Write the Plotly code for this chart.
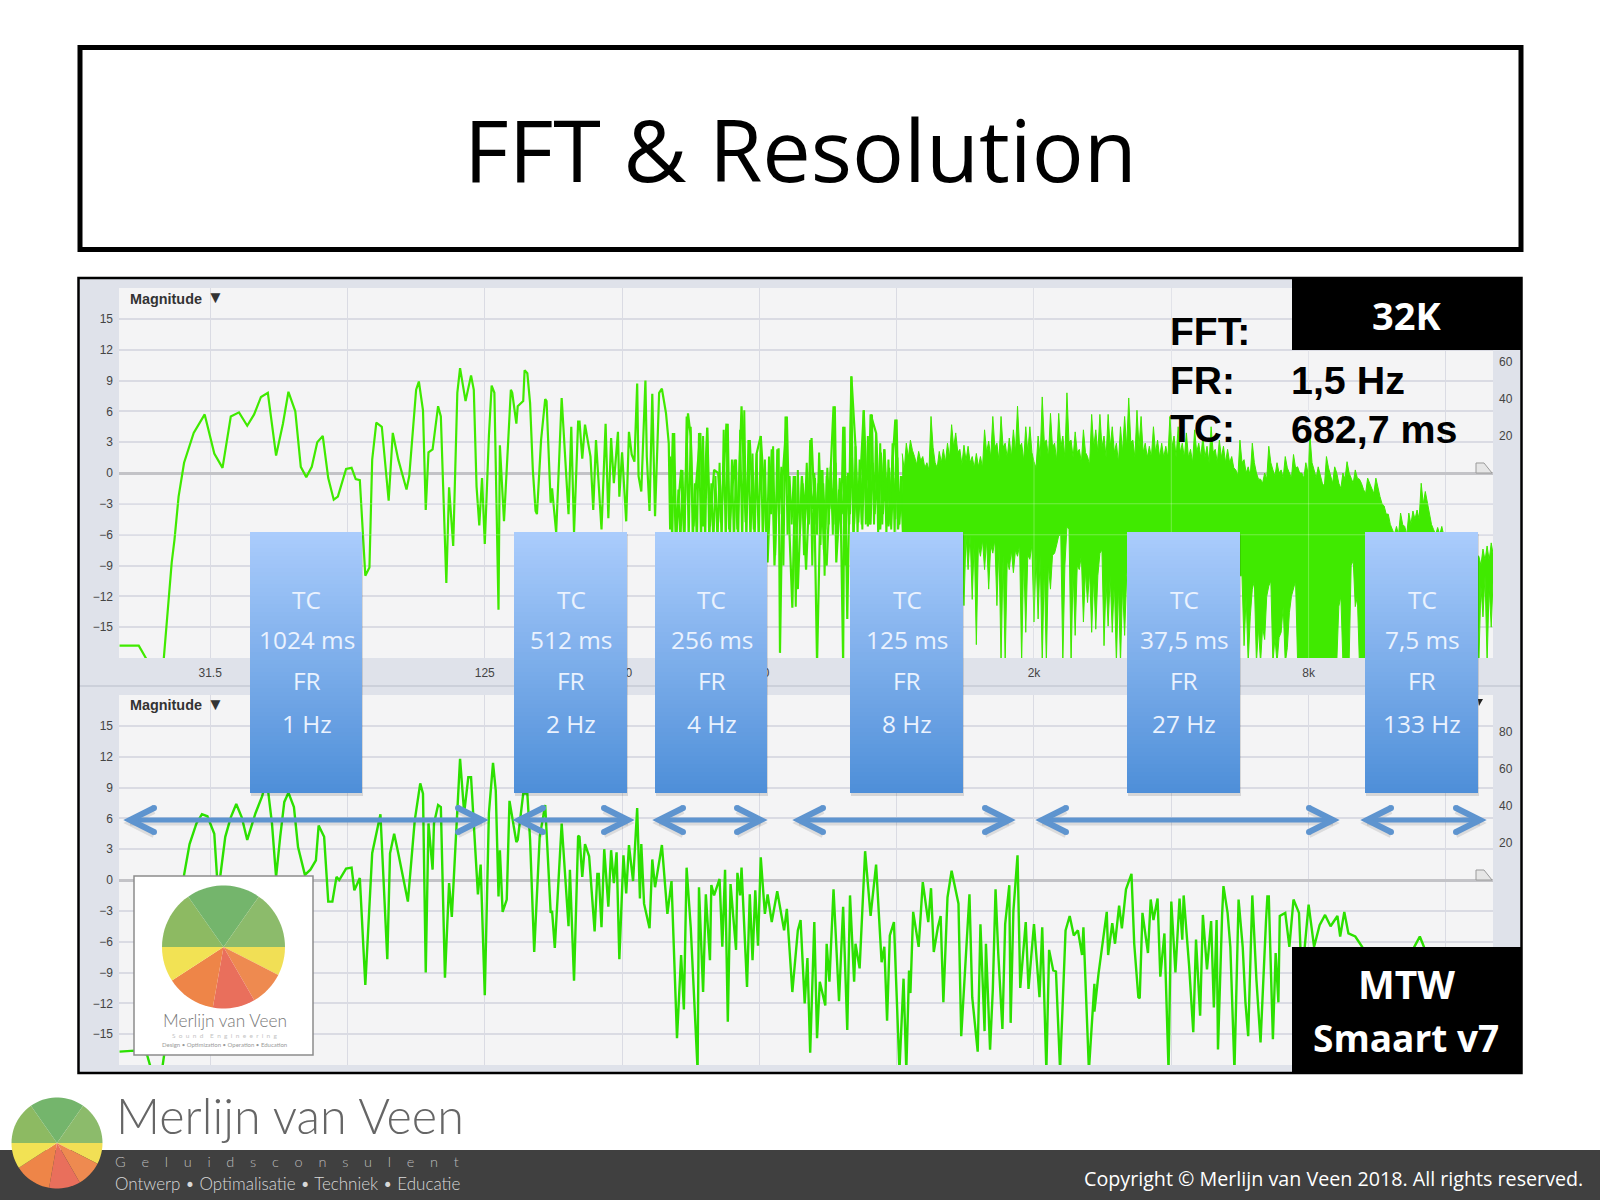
import math
import plotly.graph_objects as go

W, H = 1600, 1200

# ---- data -------------------------------------------------------------------
octave_labels = ["31.5", "", "125", "250", "500", "", "2k", "", "8k", ""]
octave_freqs = [31.5, 63, 126, 252, 504, 1008, 2016, 4032, 8064, 16128]
db_ticks = [15, 12, 9, 6, 3, 0, -3, -6, -9, -12, -15]
right_ticks = [20, 40, 60, 80]

# upper panel (32K): octaves above 31.5 Hz, magnitude in dB
upper_oct = [-0.66,-0.52,-0.46,-0.34,-0.28,-0.26,-0.23,-0.19,-0.12,-0.04,0.03,0.09,0.15,0.21,0.27,0.32,0.37,0.42,0.48,0.53,0.57,0.62,0.66,0.70,0.74,0.78,0.82,0.86,0.90,0.93,0.99,1.03,1.06,1.09,1.13,1.16,1.18,1.21,1.25,1.30,1.33,1.37,1.43,1.45,1.50,1.52,1.55,1.57,1.59,1.62,1.66,1.68,1.72,1.74,1.77,1.79,1.80,1.82,1.86,1.90,1.92,1.94,1.96,1.98,2.00,2.03,2.05,2.07,2.10,2.11,2.14,2.19,2.20,2.23,2.24,2.28,2.29,2.31,2.33,2.35,2.37,2.38,2.41,2.44,2.45,2.48,2.49,2.52,2.56,2.61,2.63,2.65,2.68,2.69,2.71,2.73,2.77,2.79,2.81,2.85,2.88,2.90,2.92,2.94,2.97,2.98,3.00,3.03,3.05,
 3.07,3.09,3.11,3.12,3.14,3.17,3.18,3.20,3.22,3.24,3.27,3.29,3.32,3.34,3.35,3.37,3.39,3.43,3.45,3.48,3.50,3.52,3.54,3.57,3.59,3.62,3.64,3.67,3.70,3.72,3.76,3.78,3.82,3.84,3.87,3.90,3.93,3.96,3.98,4.01,4.04,4.06,4.09,4.11,4.14,4.15,4.17,4.20,4.22,4.24,4.26,4.28,4.31,4.34,4.38,4.40,4.42,4.45,4.47,4.49,4.52,4.54,4.56,4.59,4.61,4.62,4.64,4.67,4.70,4.72,4.76,4.79,4.81,4.85,4.88,4.91,4.94,4.99,5.01,5.04]
upper_db = [-16.8,-16.8,-18.2,-18.4,-8.7,-6.5,-2.3,1,3.9,5.7,1.9,0.5,5.5,5.9,4.6,5.7,7.4,7.8,1.7,4.8,7.9,6,0.6,-0.4,0.6,3,3.6,-0.5,-2.6,-2.3,0.4,0.5,-0.6,-0.7,-10,-9.2,1.3,4.9,4.5,-2.7,3.9,1.3,-1.6,-0.3,8.1,8.9,6.1,-3.6,2,2.3,6.5,5.5,-10.7,-1.4,-7.1,4.5,7.8,10.2,7,9.5,8.1,-1.3,-5.1,-0.5,-6.9,3.6,8.5,7.8,-13.3,2.7,-4.7,8.1,7.8,4.8,6.5,7,10,9.7,6.8,0.3,-3.7,-4,3.2,7.2,7,-2.9,-1.5,-5.8,7.3,-4,4.5,-5.8,5,5,1.4,4.7,1.6,-3.6,3.2,-5.5,4.8,-4.4,3.4,-1,4,-2.3,2,-4.7,4,
 1.8,1.1,8.7,-0.3,-1.8,9,1.6,-3.7,7.7,-4.2,7.8,8.2,5.8,2.9,-5.5,3.9,-6.1,0.3,-5.8,5.8,3.6,-5.2,-1,3.9,-5.2,4.4,-5.2,0.3,0,-4.8,4.8,-5.5,1.3,-5.5,6.5,-4.8,3.2,-5.5,1.9,3.6,-2.9,-8.7,2.3,-9,2.4,-17.5,-0.3,5.5,-6.1,-13.1,-0.3,-11.3,-0.3,-9.4,3.4,-2.9,-18.5,0.3,-7.4,-9,0.5,6.5,-8.7,-1.6,-18.5,4.5,-14.2,9.4,2.6,-4.8,6.1,-5.2,5.7,3.9,-5.5,2.3,-5.2,5.2,-5.5,-0.3]

# busier middle part of the upper panel: tops and bottoms of the trace
mid_start_oct = 3.35
mid_step_oct = 0.03
mid_tops = [1.6,3.9,-1.6,0.3,5.5,4.5,-1,3.9,3.6,4.4,-1,-0.3,1,4.2,4.8,1.3,1.3,4.2,6.1,3.2,1.9,1.9,3.6,1.3,1.6,2.6,2.3,0.6,5.5,-0.3,-0.3,0.3,-0.3,-1,3.2,0,-1,0.3,-0.3,0.6,6.5,-1.6,4.5,-0.3,9.4,2.6,1.3,6.1,3.6,5.7,3.9,2.9,2.3,1.3,2.9,5.2,-0.3]
mid_bottoms = [-7,-7,-7,-7,-7,-7,-7,-7,-7,-7,-7,-7,-7,-7,-7,-7,-7,-7,-7,-7,-7,-7,-7,-7,-4,-8,-4,-9,-6,-5,-13,-6,-8,-5,-9,-5,-7,-10,-5,-6,-7,-5,-9,-5,-8,-6,-5,-5,-5,-5,-6,-5,-6,-5,-6,-5,-6]

# the strokes packed between those, where the trace starts to close up
close_start_oct = 4.315
close_step_oct = 0.03
close_tops = [-1,1,-1.5,-0.5,2,-1,0.5,-1.5,1,-0.5,-2,0,1.5,-1,-0.5,2,-1.5,1,-0.5,2,-1,0.5,-0.5,1.5,-1,0.5]
close_bottoms = [-4,-5,-3.5,-6,-4.5,-5.5,-3.5,-5,-6,-4,-5.5,-4,-5,-3.5,-5.5,-4.5,-5,-4,-5.5,-4,-5,-5.5,-4.5,-5,-5.5,-6]

# solid part of the upper panel, read sample by sample: spike tops, the valleys
# between them, the lower edge of the solid mass, and the deep spikes below it
dense_start_oct = 5.04
dense_step_oct = 0.03
dense_tops = [1.9,2.9,3.2,1.6,2.1,1.6,1,5.5,1,2.1,2.3,2.9,4.7,3.9,2.3,2.7,2.6,1.6,1.9,1.6,4.2,3.1,5.5,2.9,5.5,2.9,3.4,4.2,6.5,2.9,4.5,4.5,1.1,3.6,7.4,3.2,5.8,2.9,5.8,3.6,7.8,3.2,4,2.3,4.2,1.6,5.7,4.2,5.7,3.6,5.7,4.5,2.9,4.5,5.5,7.3,3.2,6.1,
 5.5,2.9,2.6,4.5,3.2,2.9,2.6,5.5,3.6,4.5,2.9,3.9,2.3,4.2,2.9,3.6,2.6,4.5,2.3,3.2,2.6,2.3,1.6,0.3,3.2,1.3,0.6,2.9,0,-0.6,0,2.6,0.3,1,0.3,1.6,0,1.8,0.6,0,1,3.6,0.3,0.6,-1,1.6,-0.3,0.6,-1,0,1.1,-0.5,0.3,-0.6,-1.6,-0.5,-1.6,-0.5,-2.3,-3.2,-4,-5.5,-5.2,-3.9,-5.2,-3.9,-3.7,-3.6,-1,-1.8,-4,-5.5,-5.3,-5.2,-7,-7,-7,-7,-7,-7,-7,-7,-8.1,-7.4,-7.1,-6.8]
dense_valleys = [0.3,1.5,2.2,0.8,1.2,0.5,0.3,2.5,0.5,1,1,1.5,2.5,2,0.8,1.2,1,0.5,0.6,0.5,2,1.5,2.5,1.2,2.5,1.5,1.5,2,2.5,1.2,2,2,0.5,1.5,3,1.5,2.5,1.2,2.5,1.5,3,1.5,2,1,2,0.8,2.5,2,2.5,1.5,2.5,2,1,2,2.5,3,1.5,2.5,
 2,1.5,1.5,2,1.5,1.5,1.5,2.5,1.5,2,1.5,1.5,1,2,1.5,1.5,1,2,1,1.5,1,1,0.5,-0.3,1,0,-0.3,1,-0.6,-1,-0.6,1,-0.3,0,-0.5,0.5,-0.5,0.5,0,-0.5,0,1,-0.5,-0.3,-1.3,0.5,-1,0,-1.5,-0.6,0,-1,-0.5,-1,-2,-1,-2,-1.5,-3,-4,-5,-6,-6,-5,-6,-5,-4.5,-4.5,-3,-3,-5,-6,-6,-6,-8,-8,-8,-8,-8,-8,-8,-8,-9,-8.5,-8.5,-8]
dense_floors = [-7,-7,-7,-7,-7,-7,-7,-7,-7,-7,-7,-7,-7,-7,-7,-6,-6,-6.5,-7,-6.5,-6.5,-7,-6.5,-7,-8,-8.5,-7.5,-7.5,-7,-8,-8,-7,-8,-8,-9,-9,-8,-7,-6,-9,-5.5,-9.5,-9,-8,-9.5,-9.5,-10,-10,-7.5,-10.5,-10,-10.5,-11,-11,-10,-8,-8,-8,
 -10,-10,-10,-10,-10,-10,-10,-10,-10,-10,-10,-10,-10,-10,-10,-10,-10,-10,-10,-10,-10,-10,-10,-10,-10,-12,-14,-10.5,-15,-15,-12,-10.5,-16,-16,-13,-17,-12,-10.5,-18.5,-18.5,-18.5,-18.5,-18.5,-18.5,-18.5,-18.5,-18.5,-18.5,-12,-18.5,-18.5,-8.5,-12,-18.5,-18.5,-10,-10,-10,-10,-10,-10,-10,-10,-10,-10,-10,-10,-10,-10,-10,-10,-10,-10,-10,-10,-10,-10,-10,-10,-10,-10,-10,-11,-10,-11,-10]
dense_bottoms = [-7,-6,-8,-6,-7,-6,-8,-6,-7,-8,-6,-7,-6,-8,-7,-12.9,-9.4,-12.3,-16.7,-8.1,-9.4,-11.3,-7.8,-12.9,-18.5,-18.5,-9.4,-9.7,-8.1,-18.5,-15.5,-8.4,-14.5,-14.2,-18.5,-18.5,-11.3,-7.8,-6.1,-18.5,-5.2,-18.5,-15.8,-9.4,-14.5,-12.6,-15.5,-15.2,-7.8,-16.8,-14.9,-15.5,-18.5,-18.5,-15.8,-8,-8,-8,
 -10,-10,-10,-10,-10,-10,-10,-10,-10,-10,-10,-10,-10,-10,-10,-10,-10,-10,-10,-10,-10,-10,-10,-10,-10,-16.8,-18.5,-11.3,-18.5,-18.5,-16.2,-11,-18.5,-18.5,-15.5,-18.5,-13.6,-11.3,-18.5,-18.5,-18.5,-18.5,-18.5,-18.5,-18.5,-18.5,-18.5,-18.5,-13,-18.5,-18.5,-9,-13,-18.5,-18.5,-10,-10,-10,-10,-10,-10,-10,-10,-10,-10,-10,-10,-10,-10,-10,-10,-10,-10,-10,-10,-10,-10,-10,-10,-10,-10,-10,-18.5,-14,-18.5,-15]

# lower panel (MTW): octaves above 31.5 Hz, magnitude in dB
lower_oct = [-0.66,-0.55,-0.46,-0.43,-0.35,-0.32,-0.19,-0.15,-0.10,-0.06,-0.02,0.03,0.05,0.07,0.11,0.15,0.19,0.23,0.27,0.33,0.38,0.41,0.45,0.48,0.51,0.54,0.57,0.61,0.64,0.69,0.73,0.77,0.79,0.83,0.86,0.89,0.92,0.94,0.99,1.03,1.05,1.09,1.13,1.18,1.24,1.29,1.31,1.34,1.37,1.44,1.49,1.53,1.55,1.57,1.59,1.62,1.63,1.66,1.68,1.71,1.74,1.76,1.79,1.82,1.85,1.88,1.90,1.93,1.95,1.97,2.00,2.03,2.06,2.08,2.10,2.11,2.13,2.16,2.18,2.23,2.24,2.28,2.31,2.33,2.36,2.40,2.44,2.48,2.49,2.51,2.56,2.61,2.62,2.65,2.68,2.69,2.71,2.73,2.76,2.80,2.82,2.83,2.85,2.87,2.90,2.92,2.94,2.96,2.98,3.01,3.03,3.05,
 3.08,3.11,3.13,3.14,3.16,3.20,3.22,3.24,3.29,3.33,3.36,3.40,3.43,3.45,3.47,3.50,3.55,3.56,3.59,3.61,3.64,3.65,3.67,3.71,3.73,3.75,3.77,3.79,3.83,3.84,3.86,3.87,3.91,3.93,3.95,3.97,3.99,4.01,4.04,4.06,4.09,4.13,4.18,4.20,4.24,4.28,4.30,4.33,4.35,4.37,4.40,4.42,4.44,4.48,4.49,4.51,4.54,4.58,4.61,4.64,4.66,4.69,4.70,4.73,4.77,4.81,4.85,4.89,4.91,4.93,4.95,4.98,5.02,5.05,5.07,5.09,5.10,5.12,5.16,5.19,5.23,5.25,5.27,5.30,5.32,5.34,5.37,5.40,5.45,5.47,5.50,5.53,5.55,5.59,5.61,5.64,5.65,5.68,5.70,5.72,5.74,5.77,5.79,5.82,5.83,5.85,5.88,5.90,5.94,5.96,6.00,6.04,6.06,6.09,6.11,6.14,6.16,6.19,6.23,6.26,6.29,6.32,6.35,6.36,6.40,6.44,6.44,6.47,6.53,6.54,6.57,6.59,6.62,6.64,6.67,6.71,6.73,6.76,
 6.77,6.79,6.83,6.85,6.87,6.90,6.92,6.95,6.98,7.00,7.03,7.06,7.08,7.09,7.13,7.16,7.18,7.21,7.23,7.26,7.29,7.31,7.33,7.34,7.37,7.38,7.41,7.43,7.46,7.49,7.52,7.54,7.56,7.59,7.62,7.65,7.69,7.70,7.71,7.74,7.76,7.78,7.79,7.83,7.86,7.89,7.93,7.95,8.00,8.04,8.08,8.12,8.16,8.21,8.23,8.26,8.29,8.34,8.39,8.46,8.61,8.73,8.77,8.81,8.84,8.90]
lower_db = [-16.7,-16.6,-17,-18.4,-18.4,-15.6,0.5,3.5,5.5,6.4,6.2,4.5,0.3,0,4.2,6.1,7.4,6.1,3.9,6.5,8.2,10,5.5,0.3,4.2,7.6,8.5,7.1,3.2,0.5,1,1.9,5.3,4.2,-2.1,-2.1,0.3,0,1.1,1.2,-1,0.2,-10.2,2.6,6.4,-7.7,2.6,4.5,2.6,-2.1,5.8,9.4,8.4,-9,5.5,1,5.5,7.3,7.1,-9.5,-0.3,-3.6,4.2,11.8,6.5,10,10,3.2,-1.4,1.5,-11.2,6.5,11.4,8.7,-1.6,2.9,-3.1,-1.9,7.7,3.7,3.9,8.4,8.4,3.9,-7,4.2,7.3,-3.2,-3,-6.6,5.5,-4.5,1,-9.8,4.3,4.2,0.3,3.5,2.3,-5,0.6,0.6,-4.6,3,-2.6,2.9,-0.3,2.7,-7.7,2.4,-1.3,3.4,
 -0.1,7,-1.8,3.5,-2.3,-4.7,2,-0.7,3.4,-3.3,-0.1,-15.4,-7.3,-12.6,1.2,-4.6,-18.5,-0.7,-10.9,-1.4,-7.8,-0.5,-1.5,0.1,-6.5,1,-13.8,-0.4,-6.8,0.7,-1.5,1.2,-10.4,-1.4,-7.8,-1,-6.4,2.2,-3.3,-1.4,-4.1,-1.1,-4.9,-2.8,-10.9,-4.9,-3.9,-12,-7.6,-16.8,-4.1,-15.4,-9.9,-12.2,-6.2,-9.9,-0.9,-11.8,-2.6,-14.6,-1.5,-9.9,-6.2,-8.6,2.8,-3.5,1.5,-8,-6.5,-13.7,-5.4,-4.1,-18.5,-9.6,-18.5,-8.8,-11,-3.1,-6.5,-0.2,-4.1,-0.8,-7,-4.6,-3.5,-11.9,-1.7,0.9,-2.3,-15.2,-7.8,-1.4,-11.4,-16.7,-4.3,-14.7,-6.2,-16.5,-10.7,-0.9,-7.2,-14.5,-4.3,-0.5,-13.9,-3,2.4,-10.5,-4.1,-10.6,-4.3,-11.4,-4.6,-18.5,-6.8,-8.8,-8.9,-18.5,-4.9,-3.5,-5.4,-4.9,-7.3,-4.6,-18.5,-10.1,-12.8,-9.1,-3.1,-7.3,-4.2,-6.2,-2.5,-4.7,-0.9,0.6,-6.2,-11.4,
 -11.5,-3.2,-7.1,-1.9,-3.9,-1.8,-9.4,-5.2,-18.5,-2.1,-9,-1.8,-5.8,-1.5,-8.4,-14.8,-5.8,-13.2,-3.4,-8.7,-4,-12.4,-3.9,-16.5,-3.4,-0.6,-3.2,-6.5,-18.5,-1.9,-6.5,-11.9,-15.2,-1.5,-9.7,-15.8,-3.9,-1.6,-1.6,-15.5,-7.1,-11.9,-3.5,-3.2,-6.5,-1.9,-3.2,-9.7,-2.4,-6.5,-4.4,-3.4,-4.5,-3.5,-5.5,-3.1,-5.2,-5.5,-6.5,-9,-12,-8,-6.5,-5.5,-6.5,-12]

tc_values = ["1024 ms", "512 ms", "256 ms", "125 ms", "37,5 ms", "7,5 ms"]
fr_values = ["1 Hz", "2 Hz", "4 Hz", "8 Hz", "27 Hz", "133 Hz"]

# ---- layout geometry (pixels) -----------------------------------------------
PL, PR = 119, 1493
UT, UB = 288, 658
LT, LB = 695, 1065
BASE = 31.5
OCT_L, OCT_R = -0.664, 9.343
box_edges = [(250, 362), (514, 627), (655, 767), (850, 963), (1127, 1240), (1365, 1478)]
arrow_edges = [(124, 488), (513, 634), (653, 767), (793, 1015), (1036, 1339), (1361, 1486)]
ARROW_Y = 820


def px(x):
    return x / W


def py(y):
    return 1 - y / H


def rect(x0, y0, x1, y1, fill=None, line=None, lw=0, layer="above"):
    return dict(type="rect", xref="paper", yref="paper", x0=px(x0), x1=px(x1), y0=py(y0), y1=py(y1),
                fillcolor=fill or "rgba(0,0,0,0)", line=dict(color=line or "rgba(0,0,0,0)", width=lw), layer=layer)


def dot(x, y, r, fill):
    return dict(type="circle", xref="paper", yref="paper", x0=px(x - r), x1=px(x + r), y0=py(y + r), y1=py(y - r),
                fillcolor=fill, line=dict(width=0), layer="above")


def path(points, fill=None, line=None, lw=0, close=False, layer="above"):
    d = "M" + " L".join(f"{px(a):.5f},{py(b):.5f}" for a, b in points) + (" Z" if close else "")
    return dict(type="path", xref="paper", yref="paper", path=d, fillcolor=fill or "rgba(0,0,0,0)",
                line=dict(color=line or "rgba(0,0,0,0)", width=lw), layer=layer)


def text(x, y, s, size, color="#000", family="Open Sans", anchor="center", weight=None):
    f = dict(size=size, color=color, family=family)
    if weight:
        f["weight"] = weight
    return dict(xref="paper", yref="paper", x=px(x), y=py(y), text=s, showarrow=False, xanchor=anchor,
                yanchor="middle", font=f, align=anchor if anchor != "middle" else "center")


def wedges(cx, cy, r):
    parts = [(270, 325, "#8dba62"), (325, 395, "#74b56c"), (35, 90, "#8cbb6b"), (90, 117, "#f1df55"),
             (117, 150, "#ee8a50"), (150, 190, "#e96f5c"), (190, 237, "#ee8548"), (237, 270, "#f2e254")]
    out = []
    for a, b, c in parts:
        pts = [(cx, cy)]
        n = max(4, int((b - a) / 4))
        for i in range(n + 1):
            t = math.radians(a + (b - a) * i / n)
            pts.append((cx + r * math.sin(t), cy - r * math.cos(t)))
        out.append(path(pts, fill=c, close=True))
    return out


def hz(octaves):
    return [BASE * 2 ** o for o in octaves]


def comb(start, step, tops, bottoms):
    xs, ys = [], []
    for i, (top, bottom) in enumerate(zip(tops, bottoms)):
        xs += [start + i * step, start + (i + 0.5) * step]
        ys += [top, bottom]
    return xs, ys


# ---- traces -----------------------------------------------------------------
GREEN_U, GREEN_L = "#40EA00", "#2CE000"
mid_oct, mid_db = comb(mid_start_oct, mid_step_oct, mid_tops, mid_bottoms)
close_oct, close_db = comb(close_start_oct, close_step_oct, close_tops, close_bottoms)
top_oct, top_db = comb(dense_start_oct, dense_step_oct, dense_tops, dense_valleys)
low_oct, low_db = comb(dense_start_oct, dense_step_oct, dense_bottoms, dense_floors)

fig = go.Figure()
for xs, ys, wd in [(mid_oct, mid_db, 2), (close_oct, close_db, 2), (upper_oct, upper_db, 2.2)]:
    fig.add_trace(go.Scatter(x=hz(xs), y=ys, mode="lines", xaxis="x", yaxis="y",
                             line=dict(color=GREEN_U, width=wd), hoverinfo="skip", showlegend=False))
fig.add_trace(go.Scatter(x=hz(top_oct + low_oct[::-1]), y=top_db + low_db[::-1], mode="lines", fill="toself",
                         fillcolor=GREEN_U, xaxis="x", yaxis="y", line=dict(color=GREEN_U, width=1), hoverinfo="skip",
                         showlegend=False))
fig.add_trace(go.Scatter(x=hz(lower_oct), y=lower_db, mode="lines", xaxis="x2", yaxis="y2",
                         line=dict(color=GREEN_L, width=2.4), hoverinfo="skip", showlegend=False))
fig.add_trace(go.Scatter(x=[], y=[], xaxis="x", yaxis="y3", showlegend=False))
fig.add_trace(go.Scatter(x=[], y=[], xaxis="x2", yaxis="y4", showlegend=False))

# ---- shapes -----------------------------------------------------------------
GRID = "#dadbe3"
shapes = [
    rect(79, 278, 1521, 1073, fill="#dfe2ea", layer="below"),
    rect(PL, UT, PR, UB, fill="#f4f4f5", layer="below"),
    rect(PL, LT, PR, LB, fill="#f4f4f5", layer="below"),
    rect(79, 685.5, 1521, 686.5, fill="#b9bdca", layer="below"),
]
# faint grid showing through the dense trace
for y_ in [473 + 3 * 10.28, 473 + 6 * 10.28]:
    shapes.append(rect(PL, y_ - 0.5, PR, y_ + 0.5, fill="rgba(255,255,255,0.28)"))
for n in [6, 7, 8]:
    x_ = 210.2 + n * 137.3
    shapes.append(rect(x_ - 0.5, UT, x_ + 0.5, UB, fill="rgba(255,255,255,0.28)"))
# small handles at the right end of the 0 dB line
for zero_y in [473, 880]:
    shapes.append(path([(1476, zero_y - 10), (1484, zero_y - 10), (1492, zero_y), (1476, zero_y)],
                       fill="#e6e6e6", line="#9a9a9a", lw=1, close=True))
# title box, footer, frame
shapes.append(rect(80, 47.5, 1521, 249.5, line="#000", lw=5))
shapes.append(rect(0, 1150, W, H, fill="#404040"))
shapes.append(rect(78.5, 278, 1521.5, 1073, line="#000", lw=2.5))
# black labels
shapes.append(rect(1292, 278, 1522, 350, fill="#000"))
shapes.append(rect(1292, 947, 1522, 1074, fill="#000"))
# right-hand small triangle peeking out beside the last box
shapes.append(path([(1478, 699), (1483, 699), (1479, 706)], fill="#222", close=True))
# small logo card
shapes.append(rect(134, 876, 313, 1055, fill="#ffffff", line="#8c8c8c", lw=1.5))
shapes += wedges(223.5, 947, 61.5)
shapes += wedges(57, 1143, 45.5)
# gradient boxes
TOP_RGB, BOT_RGB = (170, 204, 252), (77, 142, 216)
for x0, x1 in box_edges:
    shapes.append(rect(x0 + 1, 534, x1 + 1, 796, fill="rgba(0,0,0,0.12)"))
    y = 532
    while y < 793:
        t = (y - 532) / 261
        c = tuple(round(TOP_RGB[k] + (BOT_RGB[k] - TOP_RGB[k]) * t) for k in range(3))
        shapes.append(rect(x0, y, x1, min(y + 5, 793), fill=f"rgb{c}"))
        y += 4
# double arrows
for x0, x1 in arrow_edges:
    for dy, colour in [(3, "rgba(0,0,0,0.10)"), (0, "#5e94cf")]:
        yy = ARROW_Y + dy
        ax0, ax1 = x0 + 6, x1 - 6
        shapes.append(path([(ax0, yy), (ax1, yy)], line=colour, lw=5))
        shapes.append(path([(ax0 + 24, yy - 12), (ax0, yy), (ax0 + 24, yy + 12)], line=colour, lw=6))
        shapes.append(path([(ax1 - 24, yy - 12), (ax1, yy), (ax1 - 24, yy + 12)], line=colour, lw=6))
        if dy == 0:
            for ex, ey in [(ax0 + 24, yy - 12), (ax0 + 24, yy + 12), (ax1 - 24, yy - 12), (ax1 - 24, yy + 12)]:
                shapes.append(dot(ex, ey, 3, colour))

# ---- annotations ------------------------------------------------------------
ann = [text(800, 149, "FFT &amp; Resolution", 86.5)]
for y_ in [298.5, 705]:
    ann.append(text(128, y_, "Magnitude", 14.4, "#333", "Liberation Sans", "left", "bold"))
    ann.append(text(205, y_ - 1, "▼", 17, "#333", "Liberation Sans", "left"))
for y_, lab, val in [(332, "FFT:", ""), (380, "FR:", "1,5 Hz"), (429, "TC:", "682,7 ms")]:
    ann.append(text(1168, y_, f"<b>{lab}</b>", 39, "#000", "Liberation Sans", "left"))
    if val:
        ann.append(text(1289, y_, f"<b>{val}</b>", 39.4, "#000", "Liberation Sans", "left"))
ann.append(text(1406, 315, "<b>32K</b>", 38, "#fff"))
ann.append(text(1406, 983, "<b>MTW</b>", 39, "#fff"))
ann.append(text(1406, 1037, "<b>Smaart v7</b>", 37, "#fff"))
for (x0, x1), tc, fr in zip(box_edges, tc_values, fr_values):
    c = (x0 + x1) / 2
    for y_, s in [(599, "TC"), (639, tc), (680, "FR"), (723.5, fr)]:
        ann.append(text(c + 0.5, y_, s, 24.4, "#eaf2fe"))
ann.append(text(224.5, 1020, "Merlijn van Veen", 17.3, "#777", "Lato", weight=300))
ann.append(text(224.5, 1035, "S  o  u  n  d    E  n  g  i  n  e  e  r  i  n  g", 6.5, "#c4c4c4", "Lato"))
ann.append(text(224.5, 1044, "Design • Optimization • Operation • Education", 6, "#9a9a9a", "Lato"))
ann.append(text(114, 1115, "Merlijn van Veen", 48.5, "#666", "Lato", "left", 300))
ann.append(text(113, 1161, "G    e    l    u    i    d    s    c    o    n    s    u    l    e    n    t", 14.5, "#bdbdbd", "Lato", "left", 300))
ann.append(text(113, 1183, "Ontwerp • Optimalisatie • Techniek • Educatie", 17, "#d8d8d8", "Lato", "left", 300))
ann.append(text(1585, 1178, "Copyright © Merlijn van Veen 2018. All rights reserved.", 19.7, "#fff", "Open Sans", "right"))

# ---- axes -------------------------------------------------------------------
xrange_log = [math.log10(BASE) + OCT_L * math.log10(2), math.log10(BASE) + OCT_R * math.log10(2)]
tick_font = dict(family="Liberation Sans", size=12, color="#444")


def xaxis(labels, anchor):
    return dict(type="log", range=xrange_log, domain=[px(PL), px(PR)], anchor=anchor, tickmode="array",
                tickvals=octave_freqs, ticktext=octave_labels, showticklabels=labels, showgrid=True, gridcolor=GRID,
                gridwidth=1.2, zeroline=False, showline=False, ticks="", tickfont=tick_font, ticklabelstandoff=6)


def yaxis(top, bottom):
    return dict(range=[-18, 18], domain=[py(bottom), py(top)], tickmode="array", tickvals=db_ticks, anchor=None,
                showgrid=True, gridcolor=GRID, gridwidth=1.5, zeroline=True, zerolinecolor="#c3c3c7", zerolinewidth=2.5,
                showline=False, ticks="", tickfont=tick_font, ticklabelstandoff=5)


def raxis(over):
    return dict(range=[-100, 100], overlaying=over, side="right", tickmode="array", tickvals=right_ticks,
                showgrid=False, zeroline=False, showline=False, ticks="", tickfont=tick_font, ticklabelstandoff=5,
                anchor="x" if over == "y" else "x2")


y1 = yaxis(UT, UB); y1["anchor"] = "x"
y2 = yaxis(LT, LB); y2["anchor"] = "x2"

fig.update_layout(
    width=W, height=H, margin=dict(l=0, r=0, t=0, b=0), paper_bgcolor="#ffffff", plot_bgcolor="#f4f4f5",
    showlegend=False, shapes=shapes, annotations=ann,
    xaxis=xaxis(True, "y"), xaxis2=xaxis(False, "y2"), yaxis=y1, yaxis2=y2, yaxis3=raxis("y"), yaxis4=raxis("y2"),
)
fig.write_html("out.html", post_script="document.body.style.margin='0';", config={"displayModeBar": False})
